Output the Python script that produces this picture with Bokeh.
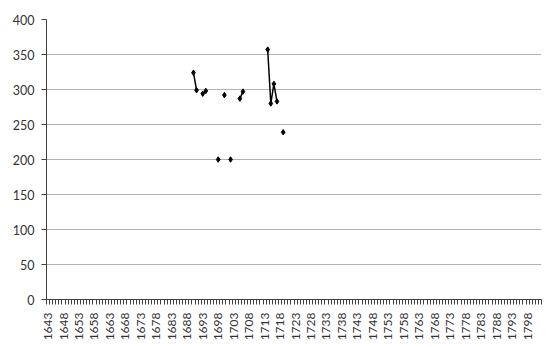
import math
from bokeh.plotting import figure
from bokeh.models import FixedTicker, Range1d
from bokeh.embed import file_html
from bokeh.resources import INLINE

# ---- data ----
first_year = 1643
last_year = 1802
label_years = list(range(1643, 1799, 5))
years = [1690, 1691, 1693, 1694, 1698, 1700, 1702, 1705, 1706, 1714, 1715, 1716, 1717, 1719]
values = [324, 299, 294, 298, 200, 292, 200, 287, 297, 357, 280, 308, 283, 239]
y_ticks = [0, 50, 100, 150, 200, 250, 300, 350, 400]

# series over consecutive years, NaN where no value (so lines break at gaps)
lookup = dict(zip(years, values))
line_x = list(range(min(years), max(years) + 1))
line_y = [lookup.get(yr, float("nan")) for yr in line_x]

p = figure(width=542, height=345, output_backend="svg", toolbar_location=None,
           x_range=Range1d(first_year - 0.5, last_year + 0.5),
           y_range=Range1d(0, 400),
           min_border_left=46, min_border_right=1, min_border_top=19, min_border_bottom=46)
p.outline_line_color = None
p.background_fill_color = "white"
p.border_fill_color = "white"

p.line(line_x, line_y, line_color="black", line_width=1.5)
p.scatter(years, values, marker="diamond", size=5.5, fill_color="black", line_color="black")

font = "Lato"
# x axis
xa = p.xaxis[0]
xa.ticker = FixedTicker(ticks=label_years,
                        minor_ticks=[yr - 0.5 for yr in range(first_year, last_year + 2)])
xa.major_label_orientation = math.pi / 2
xa.major_tick_line_color = None
xa.major_tick_out = 0
xa.minor_tick_out = 5
xa.minor_tick_in = 0
xa.minor_tick_line_color = "#404040"
xa.axis_line_color = "#404040"
xa.major_label_text_font = font
xa.major_label_text_font_size = "12px"
xa.major_label_text_color = "#333333"
xa.major_label_standoff = 8

# y axis
ya = p.yaxis[0]
ya.ticker = FixedTicker(ticks=y_ticks)
ya.minor_tick_line_color = None
ya.major_tick_out = 5
ya.major_tick_in = 0
ya.major_tick_line_color = "#404040"
ya.axis_line_color = "#404040"
ya.major_label_text_font = font
ya.major_label_text_font_size = "12.5px"
ya.major_label_text_color = "#333333"
ya.major_label_standoff = 7

p.xgrid.grid_line_color = None
p.ygrid.ticker = FixedTicker(ticks=y_ticks)
p.ygrid.grid_line_color = "#b3b3b3"
p.ygrid.grid_line_width = 1

open("out.html", "w").write(file_html(p, INLINE))
